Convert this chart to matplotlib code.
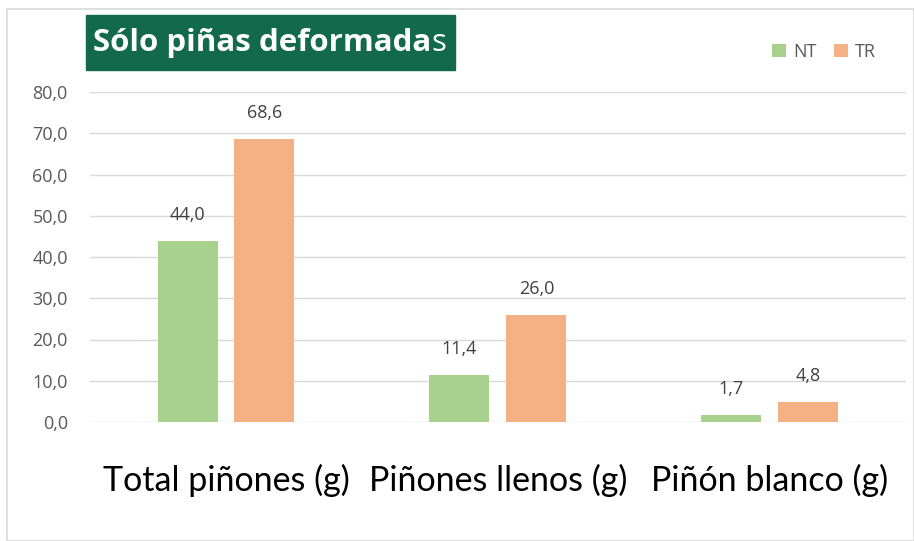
import matplotlib.pyplot as plt
import numpy as np
from matplotlib.patches import Rectangle

categories = ['Total piñones (g)', 'Piñones llenos (g)', 'Piñón blanco (g)']
nt_values = [44.0, 11.4, 1.7]
tr_values = [68.6, 26.0, 4.8]
series_names = ['NT', 'TR']
yticks = [0, 10, 20, 30, 40, 50, 60, 70, 80]

green = '#A9D18E'
orange = '#F4B183'
grey_txt = '#595959'

plt.rcParams['font.family'] = ['Open Sans', 'DejaVu Sans']

W, H = 914, 541
fig = plt.figure(figsize=(W / 100, H / 100), dpi=100)

# frame around the chart
fig.patches.append(Rectangle((7 / W, 0), (W - 7) / W, (H - 9) / H, transform=fig.transFigure,
                             fill=False, edgecolor='#D9D9D9', lw=1.2))

ax = fig.add_axes([90 / W, (H - 422) / H, (906 - 90) / W, (422 - 92) / H])

x = np.arange(len(categories))
bw = 60 / 272
gap = 17 / 272
b1 = ax.bar(x - (bw + gap) / 2, nt_values, bw, color=green, label=series_names[0], zorder=3)
b2 = ax.bar(x + (bw + gap) / 2, tr_values, bw, color=orange, label=series_names[1], zorder=3)

for bars, vals in [(b1, nt_values), (b2, tr_values)]:
    for b, v in zip(bars, vals):
        ax.text(b.get_x() + b.get_width() / 2, v + 6.3, f'{v:.1f}'.replace('.', ','),
                ha='center', va='center', fontsize=13, color='#404040')

ax.set_xlim(-0.5, 2.5)
ax.set_ylim(0, 80)
ax.set_yticks(yticks)
ax.set_yticklabels([f'{v:.1f}'.replace('.', ',') for v in yticks], fontsize=13, color=grey_txt)
ax.set_xticks(x)
ax.set_xticklabels(categories, fontsize=24.5, color='black', family=['Lato', 'DejaVu Sans'])
ax.tick_params(axis='both', length=0)
ax.tick_params(axis='y', pad=16)
ax.tick_params(axis='x', pad=30)
ax.grid(axis='y', color='#D9D9D9', lw=1, zorder=0)
for s in ax.spines.values():
    s.set_visible(False)

# legend
ax.legend(loc='center right', bbox_to_anchor=(876 / W, (H - 52) / H),
          bbox_transform=fig.transFigure, ncol=2, frameon=False, fontsize=13,
          handlelength=0.75, handleheight=0.75, handletextpad=0.4, columnspacing=1.0,
          labelcolor=grey_txt, borderpad=0, borderaxespad=0)

# title box
fig.patches.append(Rectangle((86 / W, (H - 70) / H), (455 - 86) / W, 55 / H,
                             transform=fig.transFigure, color='#13694B'))
t1 = fig.text(93 / W, (H - 43) / H, 'Sólo piñas deformada', fontsize=22.5, fontweight='bold',
              color='white', va='center', ha='left')
fig.canvas.draw()
bb = t1.get_window_extent()
fig.text(bb.x1 / W, (H - 43) / H, 's', fontsize=22.5, color='white', va='center', ha='left')

fig.savefig('out.png', dpi=100)
